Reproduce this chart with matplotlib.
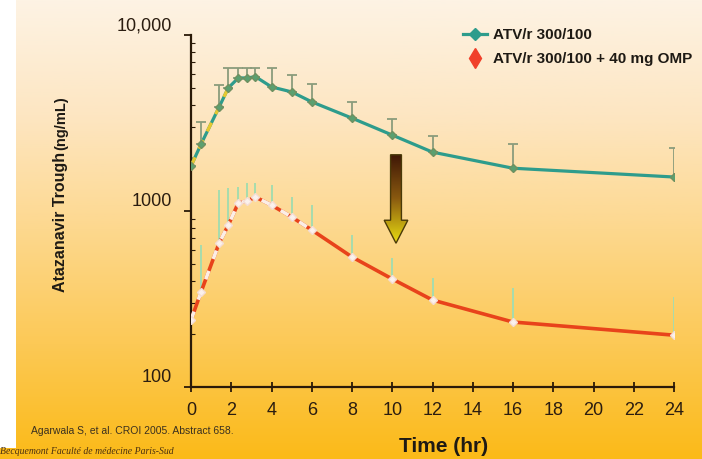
import numpy as np
import matplotlib.pyplot as plt
import matplotlib.transforms as mtransforms
from matplotlib.lines import Line2D
from matplotlib.patches import Polygon, Rectangle
from matplotlib.colors import LinearSegmentedColormap

plt.rcParams['font.family'] = ['Liberation Sans', 'DejaVu Sans']

# sampling times (hr) and concentrations (ng/mL)
time_hr = [0, 0.5, 1.4, 1.85, 2.35, 2.8, 3.2, 4, 5, 6, 8, 10, 12, 16, 24]
atv_mean = [1800, 2400, 3900, 5000, 5700, 5700, 5800, 5070, 4750, 4170, 3370, 2700, 2160, 1750, 1560]
atv_upper = [2000, 3200, 5200, 6500, 6500, 6500, 6500, 6500, 5900, 5300, 4170, 3330, 2670, 2400, 2280]
omp_mean = [240, 347, 658, 830, 1110, 1140, 1200, 1080, 925, 780, 548, 411, 312, 234, 197]
omp_upper = [430, 640, 1315, 1350, 1370, 1440, 1440, 1400, 1200, 1080, 730, 541, 417, 365, 324]

series_labels = ['ATV/r 300/100', 'ATV/r 300/100 + 40 mg OMP']
x_ticks = list(range(0, 25, 2))
y_ticks = [100, 1000, 10000]
y_ticklabels = ['100', '1000', '10,000']

teal = '#2e9c8c'
red = '#e8431b'

W, H = 702, 459
fig = plt.figure(figsize=(W / 100, H / 100), dpi=100)

# background gradient
bg = fig.add_axes([0, 0, 1, 1], zorder=-10)
bg_cmap = LinearSegmentedColormap.from_list('bg', [
    (0.0, '#fdf3e4'), (0.25, '#fde6c2'), (0.5, '#fdd88e'),
    (0.75, '#fcc956'), (1.0, '#fbba18')])
bg.imshow(np.linspace(0, 1, 256).reshape(-1, 1), aspect='auto', cmap=bg_cmap,
          extent=[0, 1, 0, 1], origin='upper')
bg.add_patch(Rectangle((0, 11 / H), 16 / W, 1, color='white', lw=0))
bg.set_xlim(0, 1)
bg.set_ylim(0, 1)
bg.axis('off')

ax = fig.add_axes([191 / W, 1 - 387 / H, (674 - 191) / W, (387 - 35) / H])
ax.set_facecolor('none')
ax.set_yscale('log')
ax.set_xlim(0, 24)
ax.set_ylim(100, 10000)

t = np.array(time_hr)
am = np.array(atv_mean)
om = np.array(omp_mean)

# green series
ax.errorbar(t, am, yerr=[np.zeros_like(am), np.array(atv_upper) - am], fmt='none',
            ecolor='#8a9c7c', elinewidth=1.3, capsize=3.5, capthick=1.3, zorder=2)
ax.plot(t, am, color=teal, lw=2.3, zorder=3)
ax.plot(t[:4], am[:4], color='#e6c830', lw=2.3, dashes=(3, 3), zorder=3.5)
ax.plot(t, am, ls='none', marker='D', ms=4.5, mfc='#5aa070', mec='#6f9060', zorder=4)

# red series
ax.errorbar(t, om, yerr=[np.zeros_like(om), np.array(omp_upper) - om], fmt='none',
            ecolor='#a6dcae', elinewidth=1.4, capsize=0, zorder=2)
ax.plot(t, om, color=red, lw=2.6, zorder=3)
ax.plot(t[:10], om[:10], color='#fbeee6', lw=2.6, dashes=(2.5, 3.5), zorder=3.5)
ax.plot(t, om, ls='none', marker='D', ms=4.5, mfc='#fbf1ec', mec='#f4ddd4', zorder=4)

# axes styling
for s in ['top', 'right']:
    ax.spines[s].set_visible(False)
for s in ['left', 'bottom']:
    ax.spines[s].set_color('#2a1a08')
    ax.spines[s].set_linewidth(1.6)

ax.set_xticks(x_ticks)
ax.set_xticklabels([str(v) for v in x_ticks])
ax.set_yticks(y_ticks)
ax.set_yticklabels(y_ticklabels)
ax.tick_params(axis='x', direction='inout', length=7, width=1.3, color='#2a1a08',
               labelsize=13, labelcolor='#2b1d10', pad=7)
ax.tick_params(axis='y', which='major', direction='out', length=5, width=1.3,
               color='#2a1a08', labelsize=13, labelcolor='#2b1d10', pad=9)
ax.tick_params(axis='y', which='minor', direction='in', length=3, width=0.8,
               color='#2a1a08')
offset = mtransforms.ScaledTranslation(0, 11 / 100, fig.dpi_scale_trans)
for lab in ax.get_yticklabels():
    lab.set_transform(lab.get_transform() + offset)

# legend
handles = [Line2D([], [], color=teal, lw=2.3, marker='D', ms=6, mfc=teal, mec=teal),
           Line2D([], [], ls='none', marker='d', ms=10, mfc='#f0402a', mec='#f0402a')]
leg = ax.legend(handles, series_labels, loc='upper left', bbox_to_anchor=(0.563, 1.02),
                frameon=False, borderpad=0, borderaxespad=0, handlelength=1.6,
                handletextpad=0.35, labelspacing=0.65,
                prop={'weight': 'bold', 'size': 11})
for txt in leg.get_texts():
    txt.set_color('#1e1a14')

# arrow with brown-to-yellow gradient
aax = fig.add_axes([383 / W, 1 - 245 / H, 26 / W, 92 / H], zorder=5)
arrow_cmap = LinearSegmentedColormap.from_list('arr', ['#3e1606', '#8a5a10', '#e8dc10'])
im = aax.imshow(np.linspace(0, 1, 128).reshape(-1, 1), aspect='auto', cmap=arrow_cmap,
                extent=[0, 1, 0, 1], origin='upper')
arrow_shape = [(0.27, 1), (0.73, 1), (0.73, 0.26), (1, 0.26), (0.5, 0),
               (0, 0.26), (0.27, 0.26)]
poly = Polygon(arrow_shape, closed=True, transform=aax.transData, fc='none',
               ec='#4a3a08', lw=1)
aax.add_patch(poly)
im.set_clip_path(poly)
aax.set_xlim(-0.05, 1.05)
aax.set_ylim(-0.02, 1.02)
aax.axis('off')

# titles and notes
fig.text(60 / W, 1 - 292 / H, 'Atazanavir Trough', rotation=90, ha='center', va='bottom',
         fontsize=11.5, fontweight='bold', color='#1e1a14')
fig.text(61 / W, 1 - 150 / H, '(ng/mL)', rotation=90, ha='center', va='bottom',
         fontsize=10.5, fontweight='bold', color='#1e1a14')
fig.text(444 / W, 1 - 447 / H, 'Time (hr)', ha='center', va='center',
         fontsize=15, fontweight='bold', color='#1e1a14')
fig.text(31 / W, 1 - 431 / H, 'Agarwala S, et al. CROI 2005. Abstract 658.',
         ha='left', va='center', fontsize=7.5, color='#3a3020')
fig.text(0, 1 - 451 / H, 'Becquemont Faculté de médecine Paris-Sud',
         ha='left', va='center', fontsize=7, style='italic', color='#4a3010',
         family='Liberation Serif')

fig.savefig('out.png', dpi=100)
